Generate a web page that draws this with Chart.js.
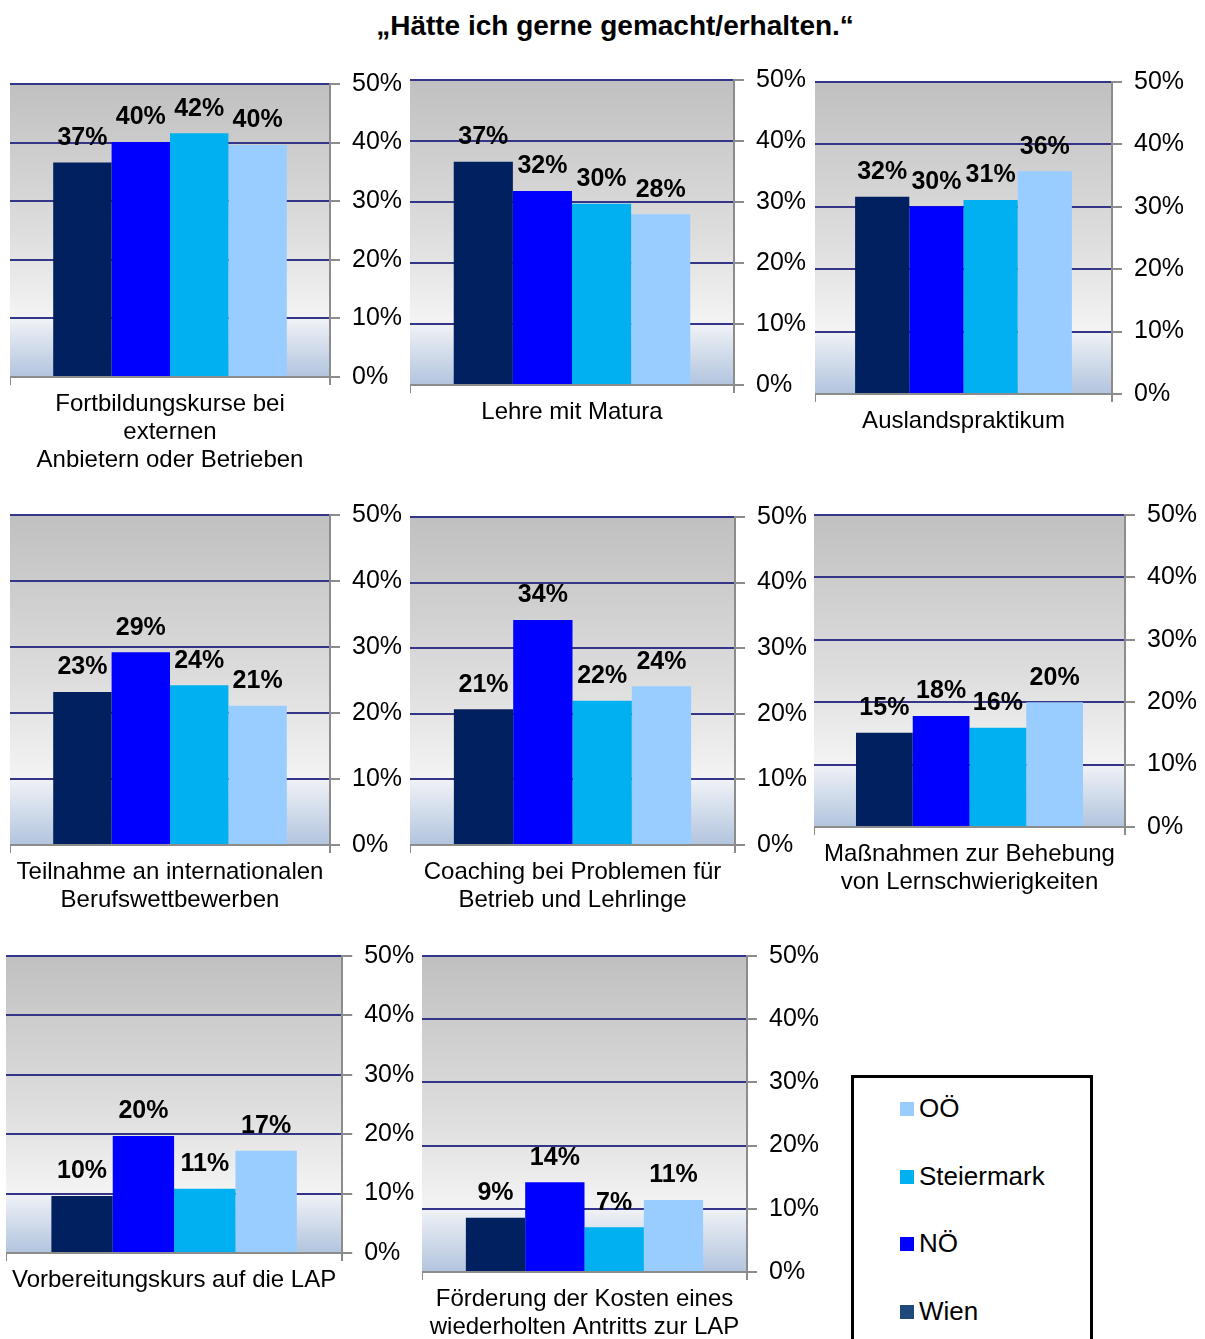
<!DOCTYPE html>
<html>
<head>
<meta charset="utf-8">
<script src="https://cdn.jsdelivr.net/npm/chart.js@4"></script>
<style>
  body { margin: 0; background: #fff; font-family: "Liberation Sans", Arial, sans-serif; }
  #page { position: relative; width: 1205px; height: 1339px; overflow: hidden; }
  #title { position: absolute; left: 0; width: 1230px; top: 10px; text-align: center; font-weight: bold; font-size: 28px; color: #000; }
  canvas { position: absolute; }
  #legend { position: absolute; left: 851px; top: 1075px; width: 236px; height: 280px; border: 3px solid #000; background: #fff; }
  .item { position: absolute; left: 46px; font-size: 26px; color: #000; line-height: 30px; }
  .item span { display: inline-block; width: 14px; height: 14px; margin-right: 5px; vertical-align: 1px; }
</style>
</head>
<body>
<div id="page">
  <div id="title">„Hätte ich gerne gemacht/erhalten.“</div>
  <div id="legend"></div>
</div>
<script>
// categories (one small chart each)
var categories = [
  ['Fortbildungskurse bei', 'externen', 'Anbietern oder Betrieben'],
  'Lehre mit Matura',
  'Auslandspraktikum',
  ['Teilnahme an internationalen', 'Berufswettbewerben'],
  ['Coaching bei Problemen für', 'Betrieb und Lehrlinge'],
  ['Maßnahmen zur Behebung', 'von Lernschwierigkeiten'],
  'Vorbereitungskurs auf die LAP',
  ['Förderung der Kosten eines', 'wiederholten Antritts zur LAP']
];

// series values in percent
var wien = [36.6, 36.6, 31.6, 23.2, 20.7, 15.1, 9.6, 8.6];
var noe  = [40.1, 31.8, 30.1, 29.2, 34.3, 17.8, 19.7, 14.2];
var stmk = [41.6, 29.7, 31.1, 24.2, 22.0, 15.9, 10.8, 7.1];
var ooe  = [39.6, 28.0, 35.7, 21.1, 24.2, 20.0, 17.2, 11.4];

var seriesNames = ['Wien', 'NÖ', 'Steiermark', 'OÖ'];
var yTicks = [0, 10, 20, 30, 40, 50];

var barColors = ['#002060', '#0000FF', '#00B0F0', '#99CCFF'];
var legendColors = ['#1F497D', '#0000FF', '#00B0F0', '#99CCFF'];

// plot area of each small chart: left, top (50%), right, bottom (0%)
var panels = [
  [10, 84, 330, 377],
  [410, 80, 734, 385],
  [815, 82, 1112, 394],
  [10, 515, 330, 845],
  [410, 517, 735, 845],
  [814, 515, 1125, 827],
  [9, 956, 342, 1253],
  [422, 956, 747, 1272]
];

var fontFam = '"Liberation Sans", Arial, sans-serif';
var PADTOP = 16, AXISW = 80, AXISH = 100;

var bgPlugin = {
  id: 'plotBg',
  beforeDraw: function(chart) {
    var a = chart.chartArea, ctx = chart.ctx;
    var g = ctx.createLinearGradient(0, a.top, 0, a.bottom);
    g.addColorStop(0, '#c0c0c0');
    g.addColorStop(0.5, '#dddddd');
    g.addColorStop(0.79, '#f3f3f3');
    g.addColorStop(0.81, '#edf0f5');
    g.addColorStop(1, '#b2c4de');
    ctx.save();
    ctx.fillStyle = g;
    ctx.fillRect(a.left, a.top, a.right - a.left, a.bottom - a.top);
    ctx.restore();
  }
};

var valueLabels = {
  id: 'valueLabels',
  afterDatasetsDraw: function(chart) {
    var ctx = chart.ctx;
    ctx.save();
    ctx.font = 'bold 25px ' + fontFam;
    ctx.fillStyle = '#000';
    ctx.textAlign = 'center';
    ctx.textBaseline = 'bottom';
    chart.data.datasets.forEach(function(ds, i) {
      var bar = chart.getDatasetMeta(i).data[0];
      ctx.fillText(Math.round(ds.data[0]) + '%', bar.x, bar.y - 12);
    });
    ctx.restore();
  }
};

var page = document.getElementById('page');
var series = [wien, noe, stmk, ooe];

panels.forEach(function(p, k) {
  var cv = document.createElement('canvas');
  var plotW = p[2] - p[0], plotH = p[3] - p[1];
  var w = plotW + AXISW, h = plotH + PADTOP + AXISH;
  cv.width = w; cv.height = h;
  cv.style.left = p[0] + 'px';
  cv.style.top = (p[1] - PADTOP) + 'px';
  cv.style.width = w + 'px';
  cv.style.height = h + 'px';
  page.appendChild(cv);

  var chart = new Chart(cv, {
    type: 'bar',
    data: {
      labels: [categories[k]],
      datasets: series.map(function(s, i) {
        return { label: seriesNames[i], data: [s[k]], backgroundColor: barColors[i] };
      })
    },
    options: {
      responsive: false,
      maintainAspectRatio: false,
      animation: false,
      events: [],
      layout: { padding: { top: PADTOP, left: 0, right: 0, bottom: 0 } },
      datasets: { bar: { categoryPercentage: 0.73, barPercentage: 1 } },
      plugins: { legend: { display: false }, tooltip: { enabled: false } },
      scales: {
        x: {
          grid: { drawOnChartArea: false, drawTicks: true, tickLength: 8, color: '#8c8c8c', lineWidth: 2 },
          border: { display: true, color: '#8c8c8c', width: 2 },
          ticks: {
            color: '#000', padding: 6, maxRotation: 0, autoSkip: false,
            font: { family: fontFam, size: 24, lineHeight: 1.15 }
          },
          afterFit: function(s) { s.height = AXISH; }
        },
        y: {
          position: 'right',
          min: yTicks[0], max: yTicks[yTicks.length - 1],
          afterBuildTicks: function(s) { s.ticks = yTicks.map(function(v) { return { value: v }; }); },
          grid: {
            color: function(c) { return c.tick && c.tick.value === 0 ? 'rgba(0,0,0,0)' : '#343488'; },
            lineWidth: 2, tickLength: 10, tickColor: '#8c8c8c'
          },
          border: { display: true, color: '#8c8c8c', width: 2 },
          ticks: {
            color: '#000', padding: 12,
            font: { family: fontFam, size: 25 },
            callback: function(v) { return v + '%'; }
          },
          afterFit: function(s) { s.width = AXISW; }
        }
      }
    },
    plugins: [bgPlugin, valueLabels]
  });

  // line the plot area up with the wanted rectangle
  var t = chart.chartArea.top, l = chart.chartArea.left;
  cv.style.top = (p[1] - t) + 'px';
  cv.style.left = (p[0] - l) + 'px';
  chart.resize(l + plotW + AXISW, t + plotH + AXISH);
});

// legend box, listed in reverse series order
var legend = document.getElementById('legend');
var rows = [33, 101, 168, 236];
[3, 2, 1, 0].forEach(function(i, r) {
  var d = document.createElement('div');
  d.className = 'item';
  d.style.top = (rows[r] - 15 - 3) + 'px';
  d.innerHTML = '<span style="background:' + legendColors[i] + '"></span>' + seriesNames[i];
  legend.appendChild(d);
});
</script>
</body>
</html>
